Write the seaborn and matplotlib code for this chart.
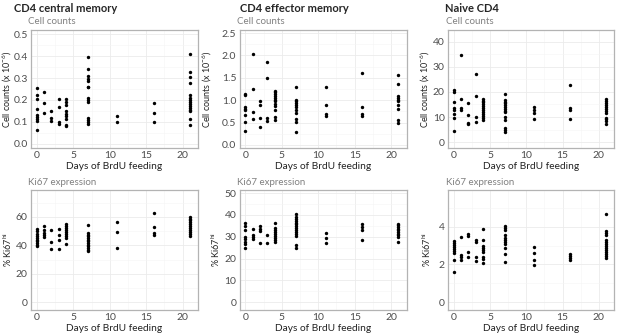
import pandas as pd
import matplotlib
matplotlib.use('Agg')
import matplotlib.pyplot as plt
import seaborn as sns
from matplotlib.ticker import MultipleLocator, FormatStrFormatter

# days of BrdU feeding
days = [0, 1, 2, 3, 4, 7, 11, 16, 21]

# Cell counts (x 10^-6), one list per day
cm_counts = [
    [0.255, 0.223, 0.206, 0.157, 0.133, 0.122, 0.113, 0.102, 0.061],
    [0.234, 0.187, 0.141],
    [0.150, 0.119, 0.102],
    [0.206, 0.168, 0.098, 0.089],
    [0.205, 0.190, 0.178, 0.149, 0.137, 0.126, 0.113, 0.087, 0.081],
    [0.398, 0.341, 0.309, 0.298, 0.288, 0.261, 0.257, 0.210, 0.200, 0.190, 0.116, 0.107, 0.099, 0.092],
    [0.127, 0.099],
    [0.185, 0.142, 0.099],
    [0.411, 0.327, 0.304, 0.278, 0.222, 0.211, 0.200, 0.191, 0.182, 0.171, 0.164, 0.156, 0.148, 0.112, 0.084],
]
em_counts = [
    [1.147, 1.117, 0.842, 0.803, 0.773, 0.672, 0.505, 0.321],
    [2.03, 1.254, 0.741, 0.581],
    [0.971, 0.887, 0.596, 0.390],
    [1.85, 1.507, 0.612, 0.535],
    [1.208, 1.177, 1.131, 1.086, 1.047, 1.009, 0.971, 0.924, 0.879, 0.780, 0.627, 0.550],
    [1.30, 1.009, 0.971, 0.933, 0.887, 0.841, 0.780, 0.719, 0.581, 0.505, 0.283],
    [1.284, 0.894, 0.688, 0.642],
    [1.598, 0.848, 0.688, 0.657],
    [1.56, 1.353, 1.093, 1.055, 1.009, 0.971, 0.902, 0.795, 0.566, 0.489],
]
nv_counts = [
    [20.8, 19.9, 16.0, 13.4, 12.8, 11.3, 9.6, 4.4],
    [34.5, 17.3, 13.4, 12.9],
    [15.4, 10.8, 7.8, 7.2],
    [27.1, 18.4, 10.0, 7.9],
    [17.2, 16.5, 15.9, 15.1, 14.3, 13.5, 12.8, 12.0, 11.2, 10.4, 9.6, 8.9],
    [19.3, 16.7, 16.0, 15.4, 14.6, 13.9, 13.3, 12.6, 12.0, 9.9, 9.0, 5.5, 4.7, 4.0],
    [13.9, 12.8, 11.8, 9.1],
    [22.7, 13.5, 13.0, 9.4],
    [17.1, 16.4, 15.6, 14.8, 14.1, 13.3, 12.5, 11.7, 9.8, 9.1, 8.3, 7.2],
]

# % Ki67 hi, one list per day
cm_ki67 = [
    [51.3, 49.9, 48.2, 46.8, 45.4, 44.0, 42.8, 41.6, 40.5, 39.3],
    [53.6, 50.6, 48.9, 47.1, 45.9],
    [51.1, 42.1, 37.2],
    [51.5, 47.5, 43.5, 37.4],
    [55.1, 53.4, 52.0, 50.6, 49.2, 47.8, 46.4, 44.9, 41.2],
    [54.1, 48.7, 47.5, 46.4, 45.2, 44.0, 42.8, 41.6, 40.5, 39.3, 38.1, 36.9, 35.8],
    [56.2, 49.6, 38.1],
    [62.8, 53.2, 48.5, 47.5],
    [60.0, 58.8, 57.6, 56.5, 55.3, 53.6, 52.0, 50.6, 49.2, 47.8, 46.4],
]
em_ki67 = [
    [36.1, 34.8, 33.0, 29.8, 28.8, 27.7, 26.8, 24.7],
    [33.3, 30.6, 29.7, 28.9],
    [34.8, 33.6, 32.7, 27.3],
    [30.8, 27.3],
    [36.4, 34.1, 32.9, 32.0, 31.1, 30.2, 29.2, 28.3, 27.4],
    [40.5, 39.2, 38.3, 37.4, 36.5, 35.6, 34.7, 33.8, 32.9, 32.0, 31.1, 30.2, 26.2, 24.7],
    [31.8, 29.5, 27.3],
    [35.6, 34.5, 32.9, 28.3],
    [35.9, 35.2, 34.4, 33.6, 32.9, 32.1, 31.4, 30.6, 29.8, 27.7],
]
nv_ki67 = [
    [3.25, 3.14, 3.04, 2.93, 2.82, 2.72, 2.61, 2.26, 1.61],
    [3.46, 2.49, 2.40, 2.23],
    [3.63, 3.53, 2.68, 2.40],
    [3.30, 3.21, 2.37, 2.16],
    [3.88, 3.28, 2.96, 2.86, 2.75, 2.65, 2.39, 2.28, 2.09],
    [4.04, 3.93, 3.82, 3.54, 3.42, 3.30, 3.19, 3.11, 2.89, 2.54, 2.11],
    [2.95, 2.60, 2.26, 1.96],
    [2.53, 2.44, 2.35, 2.26],
    [4.67, 3.77, 3.67, 3.56, 3.28, 3.18, 3.07, 2.96, 2.86, 2.75, 2.65, 2.54, 2.44, 2.33],
]

titles = ['CD4 central memory', 'CD4 effector memory', 'Naive CD4']


def to_frame(per_day):
    rows = [(d, v) for d, vals in zip(days, per_day) for v in vals]
    return pd.DataFrame(rows, columns=['day', 'value'])


sns.set_style('white')
plt.rcParams['font.family'] = ['Lato', 'DejaVu Sans']
plt.rcParams['mathtext.fontset'] = 'custom'
plt.rcParams['mathtext.rm'] = 'Lato'
plt.rcParams['mathtext.it'] = 'Lato:italic'

W, H = 617, 336
fig = plt.figure(figsize=(W / 100, H / 100), dpi=100)

# axes boxes in pixels: (left, right) per column, (top, bottom) per row
cols = [(31, 198), (239.5, 406.5), (448, 614)]
rows = [(30, 148), (190, 310)]
# y-label centres (pixels) per row / column
ylab_x = [[7, 207, 425], [8, 216, 427]]
sub_x = [28, 237, 446]
sub_off = [9, 7]

panels = [
    [(cm_counts, (-0.02, 0.52), 0.1), (em_counts, (-0.07, 2.57), 0.5), (nv_counts, (-2.3, 44.6), 10)],
    [(cm_ki67, (-5.5, 79), 20), (em_ki67, (-3.6, 51.4), 10), (nv_ki67, (-0.42, 5.95), 2)],
]
ylabels = [r'Cell counts (x 10$^{-6}$)', r'% Ki67$^{\mathrm{hi}}$']
subtitles = ['Cell counts', 'Ki67 expression']

for r, (top, bot) in enumerate(rows):
    for c, (left, right) in enumerate(cols):
        vals, ylim, step = panels[r][c]
        ax = fig.add_axes([left / W, 1 - bot / H, (right - left) / W, (bot - top) / H])
        sns.scatterplot(data=to_frame(vals), x='day', y='value', ax=ax,
                        color='black', s=6, linewidth=0, legend=False)
        ax.set_xlim(-0.8, 22.1)
        ax.set_ylim(*ylim)
        ax.xaxis.set_major_locator(MultipleLocator(5))
        ax.xaxis.set_minor_locator(MultipleLocator(2.5))
        ax.yaxis.set_major_locator(MultipleLocator(step))
        ax.yaxis.set_minor_locator(MultipleLocator(step / 2))
        if step < 1:
            ax.yaxis.set_major_formatter(FormatStrFormatter('%.1f'))
        ax.grid(which='major', color='#ebebeb', linewidth=0.6)
        ax.grid(which='minor', color='#f5f5f5', linewidth=0.4)
        ax.set_axisbelow(True)
        for sp in ax.spines.values():
            sp.set_color('#b3b3b3')
            sp.set_linewidth(0.9)
        ax.tick_params(which='major', length=1.5, width=0.5, color='#b3b3b3',
                       labelsize=7.5, labelcolor='#4d4d4d', pad=0.8)
        ax.tick_params(which='minor', length=0)
        ax.set_xlabel('Days of BrdU feeding', fontsize=7.3, color='#222222', labelpad=1.5)
        ax.set_ylabel(ylabels[r], fontsize=6.5, color='#222222', va='center')
        ax.yaxis.set_label_coords((ylab_x[r][c] - left) / (right - left), 0.5)
        fig.text(sub_x[c] / W, 1 - (top - sub_off[r]) / H, subtitles[r],
                 fontsize=7, color='#808080', va='center')

# panel titles
for c, x in enumerate([14, 240, 445]):
    fig.text(x / W, 1 - 8 / H, titles[c], fontsize=8, fontweight='bold',
             ha='left', va='center')

fig.savefig('out.png', dpi=100)
